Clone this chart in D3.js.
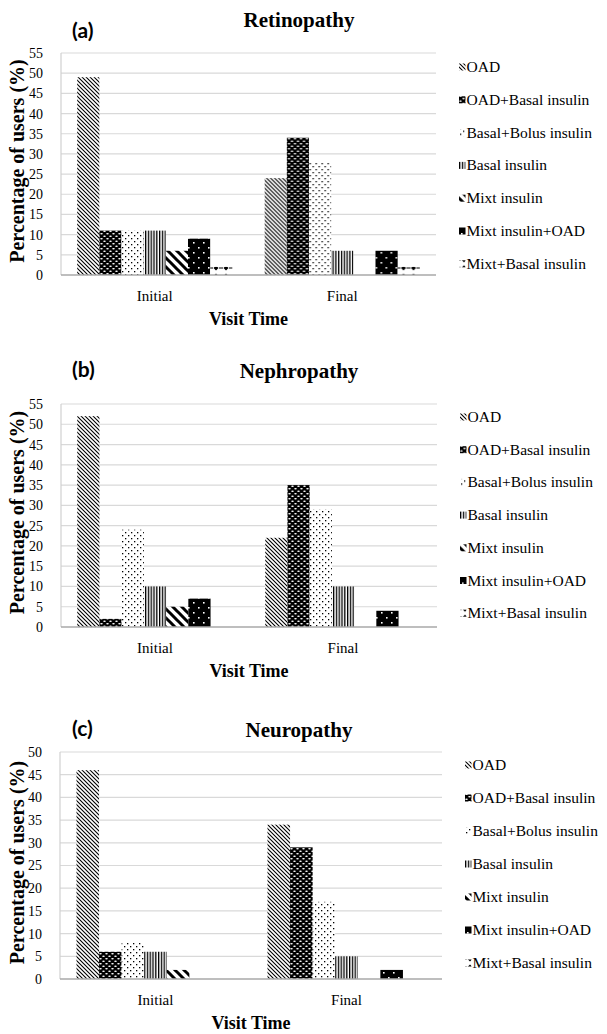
<!DOCTYPE html>
<html>
<head>
<meta charset="utf-8">
<script src="https://cdn.jsdelivr.net/npm/d3@7"></script>
<style>
  body { margin: 0; background: #fff; }
  svg { display: block; }
  text { font-family: "Liberation Serif", "Times New Roman", serif; fill: #000; }
  text.tag { font-family: Lato, "Open Sans", sans-serif; }
</style>
</head>
<body>
<svg id="fig" width="607" height="1034"></svg>
<script>
// ---- data -------------------------------------------------------------
const visits = ["Initial", "Final"];
const regimens = [
  "OAD", "OAD+Basal insulin", "Basal+Bolus insulin", "Basal insulin",
  "Mixt insulin", "Mixt insulin+OAD", "Mixt+Basal insulin"
];
// percentage of users per regimen, in the order of `regimens`
const retinopathyInitial = [49, 11, 11, 11, 6, 9, 2];
const retinopathyFinal   = [24, 34, 28, 6, 0, 6, 2];
const nephropathyInitial = [52, 2, 24, 10, 5, 7, 0];
const nephropathyFinal   = [22, 35, 29, 10, 0, 4, 0];
const neuropathyInitial  = [46, 6, 8, 6, 2, 0, 0];
const neuropathyFinal    = [34, 29, 17, 5, 0, 2, 0];
const yTicksRetinopathy = [0, 5, 10, 15, 20, 25, 30, 35, 40, 45, 50, 55];
const yTicksNephropathy = [0, 5, 10, 15, 20, 25, 30, 35, 40, 45, 50, 55];
const yTicksNeuropathy  = [0, 5, 10, 15, 20, 25, 30, 35, 40, 45, 50];

// ---- panel layout -----------------------------------------------------
const panels = [
  { tag: "(a)", title: "Retinopathy", initial: retinopathyInitial, final: retinopathyFinal,
    ticks: yTicksRetinopathy, top: 53, bottom: 275, left: 61, right: 436,
    tagY: 38, titleY: 27, legendX: 459, legendY: 67, legendStep: 32.8 },
  { tag: "(b)", title: "Nephropathy", initial: nephropathyInitial, final: nephropathyFinal,
    ticks: yTicksNephropathy, top: 404, bottom: 627, left: 61, right: 437,
    tagY: 377, titleY: 378, legendX: 460, legendY: 417, legendStep: 32.7 },
  { tag: "(c)", title: "Neuropathy", initial: neuropathyInitial, final: neuropathyFinal,
    ticks: yTicksNeuropathy, top: 752, bottom: 979, left: 60, right: 442,
    tagY: 736, titleY: 737, legendX: 465, legendY: 765, legendStep: 33 }
];

const svg = d3.select("#fig");
const defs = svg.append("defs");

// ---- monochrome fill patterns, one per regimen -----------------------
function pattern(id, w, h, draw) {
  const p = defs.append("pattern").attr("id", id)
    .attr("patternUnits", "userSpaceOnUse").attr("width", w).attr("height", h);
  draw(p);
}
// OAD: thin downward diagonals
pattern("pat0", 4, 4, p => {
  p.append("rect").attr("width", 4).attr("height", 4).attr("fill", "#fff");
  p.append("path").attr("d", "M-1,-1L5,5M-1,3L1,5M3,-1L5,1")
    .attr("stroke", "#000").attr("stroke-width", 1.1);
});
// OAD+Basal insulin: black with white dashes
pattern("pat1", 6, 5, p => {
  p.append("rect").attr("width", 6).attr("height", 5).attr("fill", "#000");
  p.append("ellipse").attr("cx", 1.5).attr("cy", 1.2).attr("rx", 1.3).attr("ry", 0.7).attr("fill", "#fff");
  p.append("ellipse").attr("cx", 4.5).attr("cy", 3.7).attr("rx", 1.3).attr("ry", 0.7).attr("fill", "#fff");
});
// Basal+Bolus insulin: sparse black dots
pattern("pat2", 6, 6, p => {
  p.append("rect").attr("width", 6).attr("height", 6).attr("fill", "#fff");
  p.append("rect").attr("x", 1).attr("y", 1).attr("width", 1.3).attr("height", 1.3).attr("fill", "#000");
  p.append("rect").attr("x", 4).attr("y", 4).attr("width", 1.3).attr("height", 1.3).attr("fill", "#000");
});
// Basal insulin: narrow vertical lines
pattern("pat3", 2.8, 4, p => {
  p.append("rect").attr("width", 2.8).attr("height", 4).attr("fill", "#fff");
  p.append("rect").attr("x", 0).attr("width", 1.3).attr("height", 4).attr("fill", "#000");
});
// Mixt insulin: wide downward diagonals
pattern("pat4", 9, 9, p => {
  p.append("rect").attr("width", 9).attr("height", 9).attr("fill", "#fff");
  p.append("path").attr("d", "M-2,-2L11,11M-2,7L2,11M7,-2L11,2")
    .attr("stroke", "#000").attr("stroke-width", 3);
});
// Mixt insulin+OAD: black with sparse white dots
pattern("pat5", 10, 10, p => {
  p.append("rect").attr("width", 10).attr("height", 10).attr("fill", "#000");
  p.append("rect").attr("x", 2).attr("y", 2).attr("width", 1.6).attr("height", 1.6).attr("fill", "#fff");
  p.append("rect").attr("x", 7).attr("y", 7).attr("width", 1.6).attr("height", 1.6).attr("fill", "#fff");
});
// Mixt+Basal insulin: small diamonds on a dashed line
pattern("pat6", 10, 8, p => {
  p.append("rect").attr("width", 10).attr("height", 8).attr("fill", "#fff");
  p.append("path").attr("d", "M0,4H2M8,4H10").attr("stroke", "#000").attr("stroke-width", 1.2);
  p.append("path").attr("d", "M5,1.5L7.5,4L5,6.5L2.5,4Z").attr("fill", "#000");
});
const fills = regimens.map((_, i) => `url(#pat${i})`);

// ---- draw each panel --------------------------------------------------
panels.forEach(pn => {
  const g = svg.append("g");
  const y = d3.scaleLinear().domain([0, d3.max(pn.ticks)]).range([pn.bottom, pn.top]);
  const x0 = d3.scaleBand().domain(visits).range([pn.left, pn.right]);
  const x1 = d3.scaleBand().domain(regimens).range([0, x0.bandwidth()])
    .paddingInner(0).paddingOuter(0.73);

  // horizontal gridlines
  g.append("g").selectAll("line").data(pn.ticks.filter(t => t > 0)).join("line")
    .attr("x1", pn.left).attr("x2", pn.right)
    .attr("y1", d => y(d)).attr("y2", d => y(d))
    .attr("stroke", "#d9d9d9").attr("stroke-width", 1.2);

  // left axis line
  g.append("line").attr("x1", pn.left).attr("x2", pn.left)
    .attr("y1", pn.top).attr("y2", pn.bottom)
    .attr("stroke", "#d0d0d0").attr("stroke-width", 1.2);

  // y tick labels
  const yAxis = g.append("g").attr("transform", `translate(${pn.left},0)`)
    .call(d3.axisLeft(y).tickValues(pn.ticks).tickSize(0).tickPadding(18));
  yAxis.attr("font-family", null);
  yAxis.select(".domain").remove();
  yAxis.selectAll("text").attr("font-size", 14).attr("fill", "#000");

  // bars
  const rows = visits.map(v => ({ visit: v, values: v === "Initial" ? pn.initial : pn.final }));
  g.append("g").selectAll("g").data(rows).join("g")
    .attr("transform", d => `translate(${x0(d.visit)},0)`)
    .selectAll("rect").data(d => d.values.map((v, i) => ({ key: regimens[i], v, i })))
    .join("rect")
    .attr("x", d => x1(d.key)).attr("width", x1.bandwidth())
    .attr("y", d => y(d.v)).attr("height", d => y(0) - y(d.v))
    .attr("fill", d => fills[d.i]);

  // baseline
  g.append("line").attr("x1", pn.left).attr("x2", pn.right)
    .attr("y1", y(0)).attr("y2", y(0))
    .attr("stroke", "#a8a8a8").attr("stroke-width", 1.3);

  // category labels
  const xAxis = g.append("g").attr("transform", `translate(0,${pn.bottom})`)
    .call(d3.axisBottom(x0).tickSize(0).tickPadding(15));
  xAxis.attr("font-family", null);
  xAxis.select(".domain").remove();
  xAxis.selectAll("text").attr("font-size", 15).attr("fill", "#000");

  // axis titles
  g.append("text").attr("x", (pn.left + pn.right) / 2).attr("y", pn.bottom + 50)
    .attr("text-anchor", "middle").attr("font-size", 18).attr("font-weight", "bold")
    .text("Visit Time");
  g.append("text")
    .attr("transform", `translate(24,${(pn.top + pn.bottom) / 2 - 3}) rotate(-90)`)
    .attr("text-anchor", "middle").attr("font-size", 20).attr("font-weight", "bold")
    .text("Percentage of users (%)");

  // panel tag and title
  g.append("text").attr("class", "tag").attr("x", 72).attr("y", pn.tagY)
    .attr("font-weight", "bold").attr("font-size", 21).text(pn.tag);
  g.append("text").attr("x", 299).attr("y", pn.titleY)
    .attr("text-anchor", "middle").attr("font-size", 21).attr("font-weight", "bold")
    .text(pn.title);

  // legend
  const lg = g.append("g").selectAll("g").data(regimens).join("g")
    .attr("transform", (d, i) => `translate(${pn.legendX},${pn.legendY + i * pn.legendStep})`);
  lg.append("rect").attr("x", 0).attr("y", -3.5).attr("width", 6.5).attr("height", 7)
    .attr("fill", (d, i) => fills[i]);
  lg.append("text").attr("x", 7.5).attr("y", 5).attr("font-size", 15.5).text(d => d);
});
</script>
</body>
</html>
